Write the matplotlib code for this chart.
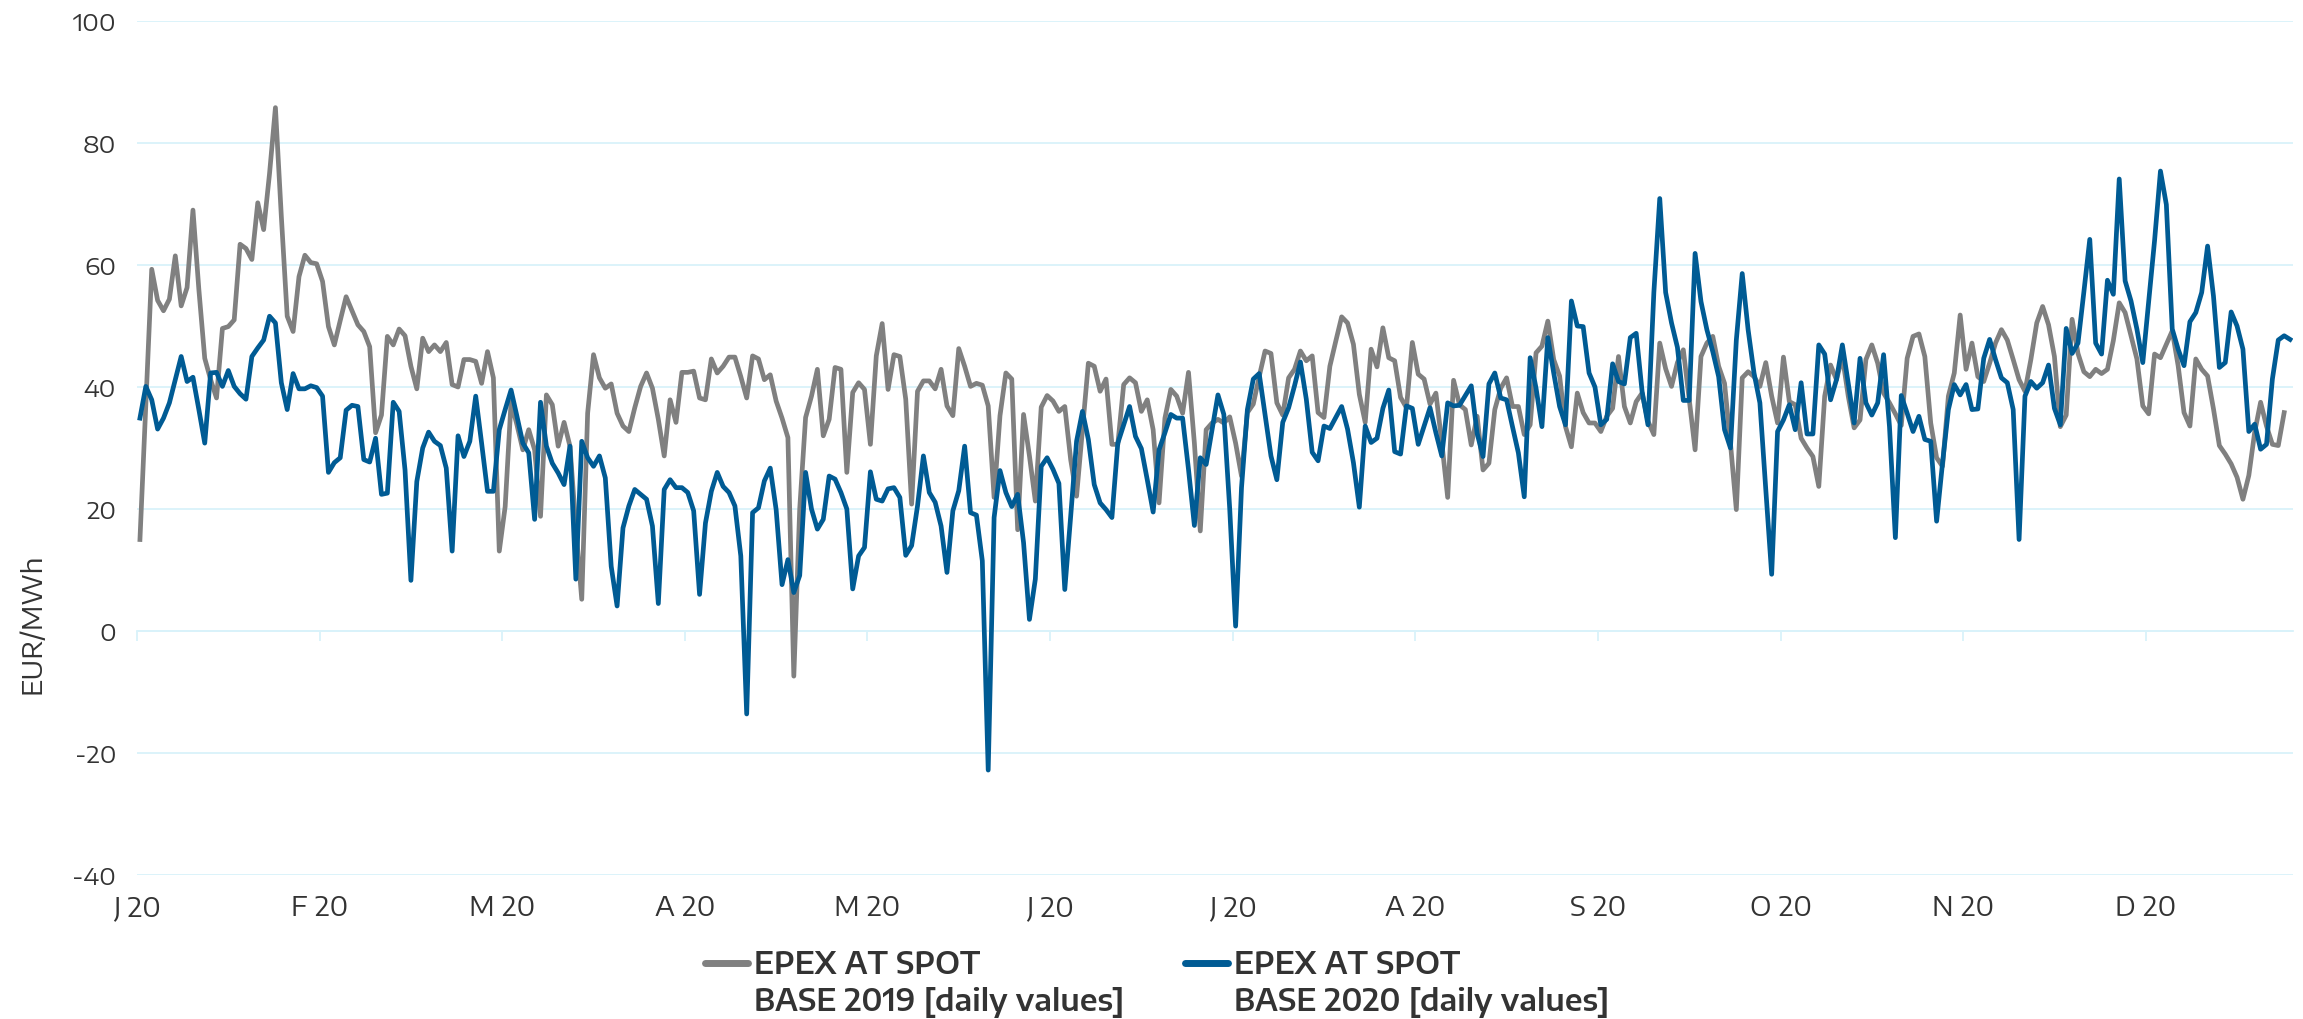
import matplotlib
matplotlib.use("Agg")
import matplotlib.pyplot as plt
from matplotlib import font_manager as fm
from matplotlib.lines import Line2D

# ---------------- data ----------------
month_labels = ["J 20", "F 20", "M 20", "A 20", "M 20", "J 20",
                "J 20", "A 20", "S 20", "O 20", "N 20", "D 20"]

base_2019 = [
    15.0, 37.0, 59.3, 54.2, 52.5, 54.4, 61.5, 53.3, 56.3, 69.0,
    56.0, 44.7, 41.2, 38.2, 49.6, 49.9, 51.0, 63.4, 62.7, 60.9,
    70.2, 65.8, 75.0, 85.8, 68.0, 51.6, 49.1, 58.1, 61.6, 60.4,
    60.2, 57.3, 49.9, 46.9, 50.9, 54.8, 52.5, 50.2, 49.1, 46.6,
    32.5, 35.4, 48.3, 46.9, 49.5, 48.4, 43.4, 39.7, 48.0, 45.8,
    46.9, 45.8, 47.3, 40.4, 40.0, 44.5, 44.5, 44.2, 40.6, 45.8,
    41.5, 13.1, 20.4, 37.5, 33.8, 29.7, 33.0, 29.7, 18.8, 38.7,
    37.1, 30.3, 34.2, 30.3, 17.0, 5.2, 35.7, 45.3, 41.5, 39.8,
    40.5, 35.7, 33.6, 32.7, 36.6, 40.1, 42.3, 39.8, 34.7, 28.7,
    37.9, 34.2, 42.4, 42.4, 42.6, 38.2, 37.9, 44.6, 42.3, 43.4,
    44.9, 44.9, 41.7, 38.2, 45.1, 44.6, 41.2, 42.0, 37.7, 34.9,
    31.7, -7.4, 20.0, 35.0, 38.5, 42.9, 32.0, 34.7, 43.2, 42.9,
    26.0, 39.1, 40.7, 39.6, 30.6, 45.1, 50.4, 39.6, 45.3, 45.0,
    38.0, 20.8, 39.3, 41.0, 41.0, 39.7, 42.9, 36.9, 35.3, 46.3,
    43.4, 40.1, 40.6, 40.3, 36.9, 21.9, 35.3, 42.3, 41.3, 16.6,
    35.5, 28.7, 21.3, 36.7, 38.6, 37.7, 36.0, 36.8, 28.1, 22.1,
    33.0, 43.9, 43.4, 39.3, 41.3, 30.6, 30.6, 40.4, 41.5, 40.7,
    36.0, 37.9, 33.0, 21.0, 34.9, 39.6, 38.5, 35.7, 42.4, 30.8,
    16.4, 33.0, 34.1, 34.7, 34.1, 35.1, 30.8, 25.4, 35.8, 37.2,
    41.7, 45.9, 45.5, 37.4, 35.4, 41.5, 42.9, 45.9, 44.3, 45.1,
    35.8, 35.0, 43.4, 47.5, 51.5, 50.5, 47.0, 38.8, 34.2, 46.2,
    43.3, 49.7, 44.8, 44.3, 38.3, 36.6, 47.3, 42.1, 41.3, 37.2,
    39.0, 30.9, 21.9, 41.1, 37.1, 36.3, 30.5, 35.2, 26.4, 27.5,
    36.3, 39.8, 41.5, 36.8, 36.8, 32.2, 33.8, 45.6, 46.7, 50.8,
    44.5, 41.8, 33.5, 30.2, 39.0, 35.8, 34.1, 34.1, 32.7, 35.2,
    36.5, 45.0, 36.8, 34.1, 37.6, 39.0, 34.4, 32.2, 47.2, 43.0,
    40.1, 44.0, 46.1, 38.0, 29.7, 45.0, 47.2, 48.3, 43.4, 40.6,
    30.8, 19.9, 41.5, 42.5, 41.7, 40.1, 44.0, 38.5, 34.1, 44.9,
    37.6, 37.1, 31.6, 30.0, 28.6, 23.7, 38.5, 43.6, 41.2, 45.0,
    38.5, 33.3, 34.6, 44.5, 46.9, 43.9, 39.0, 37.4, 35.6, 33.7,
    44.7, 48.3, 48.7, 45.0, 34.1, 28.4, 27.0, 38.5, 42.3, 51.8,
    42.9, 47.2, 41.7, 40.9, 43.9, 47.2, 49.4, 47.7, 44.5, 41.2,
    39.3, 44.5, 50.5, 53.2, 50.2, 45.0, 33.5, 35.4, 51.1, 45.5,
    42.5, 41.7, 42.9, 42.2, 42.9, 47.6, 53.8, 52.2, 48.4, 44.6,
    36.9, 35.6, 45.4, 44.8, 47.0, 49.2, 43.5, 35.8, 33.6, 44.6,
    42.9, 41.8, 36.4, 30.4, 29.0, 27.4, 25.2, 21.6, 25.5, 32.6,
    37.5, 33.6, 30.6, 30.4, 35.8,
]

base_2020 = [
    34.9, 40.1, 37.9, 33.1, 34.9, 37.4, 41.2, 45.0, 40.9, 41.6,
    36.3, 30.8, 42.3, 42.4, 40.1, 42.7, 40.1, 38.9, 38.0, 45.0,
    46.4, 47.7, 51.6, 50.5, 40.7, 36.3, 42.2, 39.7, 39.7, 40.2,
    39.9, 38.5, 26.0, 27.6, 28.4, 36.2, 37.0, 36.8, 28.1, 27.7,
    31.6, 22.4, 22.6, 37.5, 36.0, 26.4, 8.3, 24.5, 30.0, 32.6,
    31.1, 30.4, 26.7, 13.1, 32.0, 28.6, 31.1, 38.5, 30.8, 22.9,
    22.9, 33.0, 36.3, 39.5, 35.2, 30.8, 29.2, 18.3, 37.5, 30.3,
    27.5, 25.9, 24.0, 30.3, 8.5, 31.1, 28.4, 27.0, 28.7, 25.1,
    10.6, 4.1, 16.9, 20.5, 23.2, 22.4, 21.6, 17.2, 4.5, 23.2,
    24.8, 23.5, 23.5, 22.7, 19.7, 6.0, 17.7, 22.9, 26.0, 23.7,
    22.7, 20.5, 12.3, -13.6, 19.4, 20.2, 24.6, 26.7, 19.9, 7.6,
    11.7, 6.3, 9.1, 26.0, 20.0, 16.7, 18.3, 25.4, 24.9, 22.7,
    20.0, 6.9, 12.3, 13.7, 26.1, 21.6, 21.3, 23.3, 23.5, 21.9,
    12.4, 14.0, 20.5, 28.7, 22.7, 21.1, 17.2, 9.6, 19.7, 23.0,
    30.3, 19.4, 19.0, 11.5, -22.8, 18.6, 26.3, 22.7, 20.4, 22.4,
    14.5, 1.9, 8.5, 27.0, 28.4, 26.5, 24.2, 6.8, 18.8, 31.1,
    36.0, 31.4, 24.0, 21.0, 19.9, 18.6, 30.8, 33.8, 36.8, 31.9,
    29.9, 24.8, 19.5, 29.7, 32.5, 35.5, 34.9, 34.9, 26.5, 17.3,
    28.4, 27.3, 33.0, 38.7, 35.5, 20.0, 0.8, 23.5, 36.3, 41.3,
    42.2, 35.5, 28.7, 24.8, 34.2, 36.6, 40.2, 44.1, 38.0, 29.3,
    27.9, 33.6, 33.2, 35.0, 36.8, 33.1, 27.6, 20.3, 33.6, 30.9,
    31.6, 36.5, 39.5, 29.4, 29.0, 36.9, 36.5, 30.6, 33.6, 36.6,
    32.5, 28.7, 37.4, 36.9, 37.0, 38.6, 40.2, 32.4, 28.6, 40.5,
    42.3, 38.2, 37.9, 33.5, 29.2, 22.0, 44.8, 39.8, 33.5, 48.1,
    42.3, 36.8, 33.8, 54.1, 50.0, 49.9, 42.3, 40.0, 33.8, 34.7,
    43.8, 40.9, 40.5, 48.1, 48.8, 39.3, 33.8, 55.5, 70.9, 55.5,
    50.5, 46.5, 37.8, 37.8, 61.9, 54.0, 49.4, 45.8, 41.7, 33.0,
    30.0, 47.7, 58.6, 49.4, 42.3, 37.4, 23.2, 9.3, 32.7, 34.6,
    37.1, 33.0, 40.7, 32.3, 32.3, 46.9, 45.4, 37.9, 41.2, 46.9,
    40.6, 34.1, 44.7, 37.4, 35.4, 37.4, 45.3, 33.5, 15.3, 38.6,
    35.7, 32.7, 35.2, 31.4, 31.1, 18.0, 27.5, 36.3, 40.4, 38.7,
    40.4, 36.3, 36.4, 44.7, 47.8, 44.5, 41.5, 40.7, 36.3, 15.0,
    38.5, 40.9, 39.8, 40.7, 43.6, 36.5, 33.8, 49.6, 45.5, 47.2,
    55.6, 64.2, 47.2, 45.4, 57.5, 55.2, 74.1, 57.4, 54.1, 49.5,
    44.0, 54.0, 64.0, 75.4, 69.9, 49.5, 46.2, 43.5, 50.7, 52.2,
    55.5, 63.1, 54.9, 43.2, 44.0, 52.3, 50.0, 46.2, 32.7, 33.9,
    29.8, 30.6, 41.3, 47.7, 48.4, 47.8,
]

series_labels = ["EPEX AT SPOT\nBASE 2019 [daily values]",
                 "EPEX AT SPOT\nBASE 2020 [daily values]"]

# ---------------- fonts ----------------
names = {f.name for f in fm.fontManager.ttflist}
def pick(cands, default="DejaVu Sans"):
    for c in cands:
        if c in names:
            return c
    return default

YTICK_FONT = pick(["Encode Sans Expanded", "DejaVu Sans"])
LABEL_FONT = pick(["Encode Sans Semi Expanded", "Encode Sans", "DejaVu Sans"])
plt.rcParams["axes.unicode_minus"] = False

# ---------------- style ----------------
GRID = "#d9f2fa"
GRAY = "#808080"
BLUE = "#005b94"
TXT = "#333333"

W, H = 2303, 1020
fig = plt.figure(figsize=(W / 100, H / 100), dpi=100)
L, R, T, B = 137, 2293, 22, 876
ax = fig.add_axes([L / W, 1 - B / H, (R - L) / W, (B - T) / H])

x19 = list(range(len(base_2019)))
x20 = list(range(len(base_2020)))
ax.plot(x19, base_2019, color=GRAY, lw=3.4, solid_joinstyle="round", zorder=3)
ax.plot(x20, base_2020, color=BLUE, lw=3.4, solid_joinstyle="round", zorder=4)

ax.set_xlim(-0.5, len(base_2020) - 0.5)
ax.set_ylim(-40, 100)
ax.set_yticks(range(-40, 101, 20))
ax.yaxis.grid(True, color=GRID, lw=1.3)
ax.set_axisbelow(True)
for s in ["top", "right", "left"]:
    ax.spines[s].set_visible(False)
ax.spines["bottom"].set_position(("data", 0))
ax.spines["bottom"].set_color(GRID)
ax.spines["bottom"].set_linewidth(1.3)

tick_pos = [k * 31 - 0.5 for k in range(len(month_labels))]
ax.set_xticks(tick_pos)
ax.tick_params(axis="x", length=7, width=1.3, color=GRID, labelbottom=False)
ax.tick_params(axis="y", length=0, pad=15, labelcolor=TXT)
for lab in ax.get_yticklabels():
    lab.set_fontfamily(YTICK_FONT)
    lab.set_fontsize(17)

sec = ax.secondary_xaxis(0.0)
sec.set_xticks(tick_pos)
sec.set_xticklabels(month_labels, fontfamily=LABEL_FONT, fontsize=20, color=TXT)
sec.tick_params(length=0, pad=13)
sec.spines["bottom"].set_visible(False)

ax.set_ylabel("EUR/MWh", fontfamily=LABEL_FONT, fontsize=20, color=TXT)
ax.yaxis.set_label_coords(-0.042, 0.295)

h19 = Line2D([], [], color=GRAY, lw=5, solid_capstyle="round")
h20 = Line2D([], [], color=BLUE, lw=5, solid_capstyle="round")
blank = Line2D([], [], color="none", lw=0)
l19 = series_labels[0].split("\n")
l20 = series_labels[1].split("\n")
fig.legend([h19, blank, h20, blank], [l19[0], l19[1], l20[0], l20[1]],
           ncol=2, loc="center", bbox_to_anchor=(0.5025, 0.035), frameon=False,
           prop=fm.FontProperties(family=LABEL_FONT, size=22, weight="semibold"),
           labelcolor=TXT, handlelength=1.4, handletextpad=0.2,
           columnspacing=2.0, labelspacing=0.2, borderaxespad=0, borderpad=0.1)

fig.savefig("out.png", dpi=100)
